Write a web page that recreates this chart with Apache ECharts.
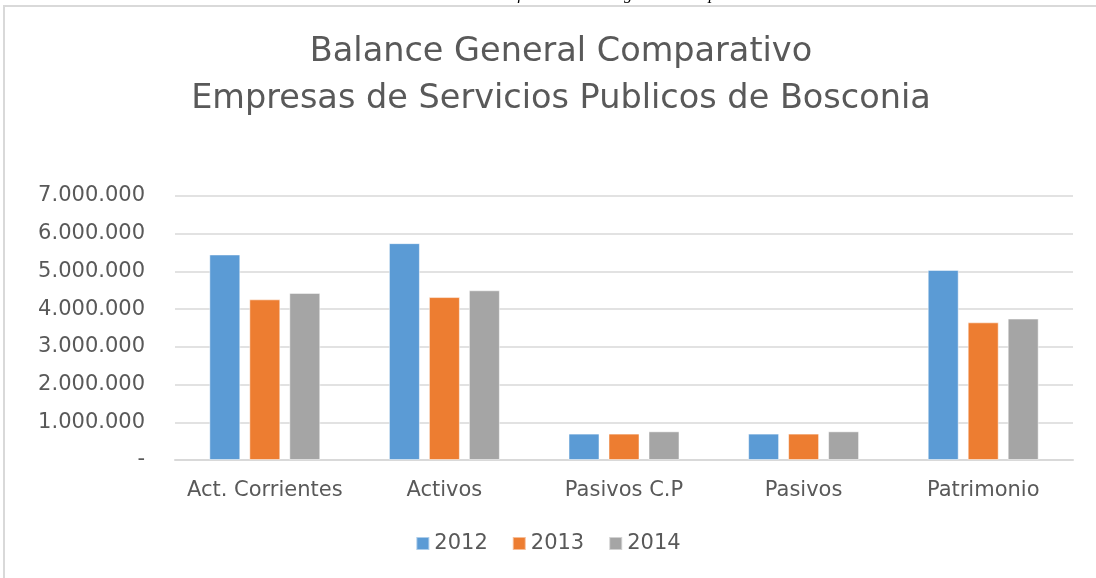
<!DOCTYPE html>
<html>
<head>
<meta charset="utf-8">
<script src="https://cdn.jsdelivr.net/npm/echarts@6/dist/echarts.min.js"></script>
<style>
  html, body { margin: 0; padding: 0; background: #fff; }
  #main { width: 1096px; height: 578px; }
</style>
</head>
<body>
<div id="main"></div>
<script>
var categories = ['Act. Corrientes', 'Activos', 'Pasivos C.P', 'Pasivos', 'Patrimonio'];
var years = ['2012', '2013', '2014'];
var v2012 = [5450000, 5750000, 700000, 700000, 5040000];
var v2013 = [4260000, 4320000, 700000, 700000, 3650000];
var v2014 = [4430000, 4500000, 760000, 760000, 3750000];
var colors = ['#5b9bd5', '#ed7d31', '#a5a5a5'];

// formato con puntos de miles, el cero como guion
function fmt(v) {
  if (v == 0) return '-';
  return String(v).replace(/\B(?=(\d{3})+(?!\d))/g, '.');
}

var font = '"DejaVu Sans", "Open Sans", sans-serif';
var myChart = echarts.init(document.getElementById('main'));
var option = {
  animation: false,
  color: colors,
  title: {
    text: 'Balance General Comparativo\nEmpresas de Servicios Publicos de Bosconia',
    left: 556, textAlign: 'center', top: 24,
    textStyle: { fontFamily: font, fontSize: 33.5, fontWeight: 'normal', color: '#595959', lineHeight: 47 }
  },
  graphic: [
    { type: 'rect', shape: { x: 4, y: 6, width: 1200, height: 700 },
      style: { fill: null, stroke: '#d9d9d9', lineWidth: 2 }, silent: true },
    { type: 'text', left: 490, top: -14,
      style: { text: 'Gráfico 1. Balance general comparativo', font: 'italic 17px "Liberation Serif", serif', fill: '#000' } }
  ],
  legend: {
    data: years, bottom: 19, left: 'center',
    itemWidth: 13, itemHeight: 13, itemGap: 24, icon: 'rect',
    textStyle: { fontFamily: font, fontSize: 21, color: '#595959' }
  },
  grid: { left: 175, right: 23, top: 196, bottom: 118 },
  xAxis: {
    type: 'category', data: categories,
    axisLine: { lineStyle: { color: '#d9d9d9', width: 2 } },
    axisTick: { show: false },
    axisLabel: { fontFamily: font, fontSize: 21, color: '#595959', margin: 20, interval: 0 }
  },
  yAxis: {
    type: 'value', min: 0, max: 7000000, interval: 1000000,
    axisLine: { show: false }, axisTick: { show: false },
    splitLine: { lineStyle: { color: '#d9d9d9', width: 1.5 } },
    axisLabel: { fontFamily: font, fontSize: 21, color: '#595959', margin: 30, formatter: fmt }
  },
  series: [
    { name: years[0], type: 'bar', data: v2012, barWidth: 31, barGap: '29%',
      itemStyle: { borderColor: 'rgba(255,255,255,0.5)', borderWidth: 1 } },
    { name: years[1], type: 'bar', data: v2013, barWidth: 31, barGap: '29%',
      itemStyle: { borderColor: 'rgba(255,255,255,0.5)', borderWidth: 1 } },
    { name: years[2], type: 'bar', data: v2014, barWidth: 31, barGap: '29%',
      itemStyle: { borderColor: 'rgba(255,255,255,0.5)', borderWidth: 1 } }
  ]
};
myChart.setOption(option);
</script>
</body>
</html>
